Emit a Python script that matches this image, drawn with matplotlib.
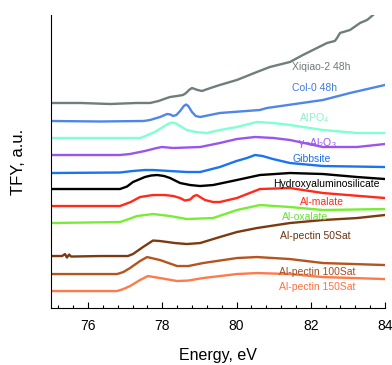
import matplotlib
matplotlib.use("Agg")
import matplotlib.pyplot as plt
from matplotlib.ticker import MultipleLocator, AutoMinorLocator

plt.rcParams['font.family'] = ['Liberation Sans', 'DejaVu Sans']
plt.rcParams['mathtext.fontset'] = 'custom'
plt.rcParams['mathtext.rm'] = 'Liberation Sans'
plt.rcParams['mathtext.it'] = 'Liberation Sans'

# spectra, stacked (energy in eV, TFY in a.u. with offsets)
xiqiao_e = [75.0, 75.8, 76.6, 77.3, 77.67, 77.9, 78.05, 78.21, 78.4, 78.56, 78.64, 78.72, 78.80,
            78.95, 79.07, 79.3, 79.55, 80.01, 80.55, 80.90, 81.44, 81.79, 82.44, 82.65, 82.71,
            82.79, 83.06, 83.33, 83.52, 83.68]
xiqiao_v = [20.5, 20.5, 20.4, 20.5, 20.5, 20.7, 20.9, 21.1, 21.2, 21.3, 21.5, 21.8, 22.0,
            21.8, 21.7, 22.0, 22.3, 22.8, 23.6, 24.1, 24.6, 25.3, 26.5, 26.7, 27.0,
            27.5, 27.8, 28.5, 28.8, 29.3]

col0_e = [75.0, 76.32, 77.5, 77.67, 77.94, 78.13, 78.22, 78.29, 78.38, 78.48, 78.58, 78.64,
          78.70, 78.80, 78.90, 79.02, 79.55, 80.63, 80.82, 82.33, 83.06, 84.0]
col0_v = [18.7, 18.65, 18.7, 18.8, 19.1, 19.4, 19.35, 19.2, 19.3, 19.7, 20.2, 20.35,
          20.2, 19.6, 19.2, 19.1, 19.5, 19.8, 20.0, 20.8, 21.5, 22.3]

alpo4_e = [75.0, 77.40, 77.55, 77.67, 77.80, 78.02, 78.15, 78.26, 78.37, 78.48, 78.66, 78.9,
           79.20, 79.55, 80.01, 80.55, 80.98, 81.44, 82.33, 83.25, 84.0]
alpo4_v = [17.0, 17.0, 17.2, 17.4, 17.6, 18.1, 18.4, 18.55, 18.45, 18.2, 17.8, 17.6,
           17.5, 17.8, 18.1, 18.6, 18.5, 18.3, 17.8, 17.5, 17.5]

al2o3_e = [75.0, 76.86, 77.13, 77.53, 77.85, 77.99, 78.29, 79.02, 79.55, 80.01, 80.50, 81.0,
           81.44, 82.33, 83.25, 84.0]
al2o3_v = [15.3, 15.3, 15.4, 15.7, 16.0, 16.1, 16.0, 16.1, 16.5, 16.9, 17.1, 17.0,
           16.8, 16.1, 16.1, 16.4]

gibbsite_e = [75.0, 76.86, 77.2, 77.53, 77.75, 78.2, 78.66, 79.02, 79.55, 80.0, 80.28, 80.50,
              80.7, 80.98, 81.44, 82.33, 84.0]
gibbsite_v = [13.5, 13.55, 13.7, 13.8, 13.8, 13.7, 13.6, 13.6, 14.1, 14.7, 15.0, 15.3,
              15.2, 14.9, 14.5, 14.2, 14.1]

has_e = [75.0, 76.86, 77.05, 77.21, 77.53, 77.70, 77.86, 78.05, 78.21, 78.48, 78.75, 79.02,
         79.37, 80.01, 80.63, 81.44, 82.33, 83.25, 84.0]
has_v = [11.9, 11.9, 12.15, 12.6, 13.1, 13.25, 13.3, 13.2, 13.0, 12.5, 12.3, 12.2,
         12.3, 12.8, 13.3, 13.5, 13.4, 13.1, 12.9]

malate_e = [75.0, 76.86, 77.15, 77.40, 77.75, 78.07, 78.30, 78.48, 78.61, 78.75, 78.85, 78.93,
            79.02, 79.15, 79.37, 79.55, 80.01, 80.63, 81.44, 82.33, 84.0]
malate_v = [10.2, 10.2, 10.6, 11.1, 11.3, 11.3, 11.2, 11.0, 10.75, 10.85, 11.2, 11.3,
            11.1, 10.8, 10.6, 10.6, 11.0, 11.9, 12.0, 11.5, 11.0]

oxalate_e = [75.0, 76.86, 77.1, 77.32, 77.75, 78.21, 78.66, 79.37, 80.01, 80.63, 81.44, 82.33, 84.0]
oxalate_v = [8.5, 8.6, 8.9, 9.2, 9.4, 9.2, 8.9, 9.0, 9.8, 10.3, 10.1, 9.8, 9.9]

p50_e = [75.0, 75.30, 75.38, 75.43, 75.49, 75.54, 76.32, 77.07, 77.21, 77.48, 77.75, 77.94,
         78.34, 78.66, 79.02, 79.55, 80.01, 80.55, 81.44, 82.33, 83.25, 84.0]
p50_v = [5.2, 5.2, 5.4, 5.05, 5.35, 5.15, 5.2, 5.2, 5.4, 6.1, 6.75, 6.7,
         6.5, 6.4, 6.5, 7.1, 7.6, 8.0, 8.5, 8.8, 9.0, 9.3]

p100_e = [75.0, 76.78, 76.95, 77.13, 77.40, 77.59, 77.94, 78.40, 78.7, 79.10, 80.01, 80.55,
          81.44, 82.33, 84.0]
p100_v = [3.4, 3.4, 3.6, 4.0, 4.7, 5.1, 4.8, 4.2, 4.2, 4.5, 5.0, 5.1,
          4.9, 4.5, 4.3]

p150_e = [75.0, 76.78, 76.95, 77.13, 77.40, 77.61, 77.94, 78.40, 78.7, 79.10, 80.01, 80.55,
          81.44, 82.33, 84.0]
p150_v = [1.7, 1.7, 1.9, 2.2, 2.8, 3.2, 3.0, 2.7, 2.75, 3.0, 3.4, 3.5,
          3.4, 3.1, 2.9]

names = ['Xiqiao-2 48h', 'Col-0 48h', 'AlPO$_4$', 'γ−Al$_2$O$_3$', 'Gibbsite',
         'Hydroxyaluminosilicate', 'Al-malate', 'Al-oxalate', 'Al-pectin 50Sat',
         'Al-pectin 100Sat', 'Al-pectin 150Sat']
label_e = [82.28, 82.11, 82.09, 82.17, 82.03, 82.41, 82.30, 81.84, 82.11, 82.17, 82.17]
label_v = [24.1, 22.0, 19.0, 16.5, 14.9, 12.4, 10.6, 9.1, 7.2, 3.6, 2.1]

colors = ['#6f7d7d', '#4f86e8', '#7fffd4', '#9955ee', '#1a73f0', '#000000',
          '#ff2a1a', '#77ee33', '#7b3a12', '#b4541e', '#ff7a4a']
text_colors = ['#707878', '#3f78e0', '#8ef0c8', '#9955ee', '#1a6ee8', '#000000',
               '#ff2a1a', '#66e033', '#6b3312', '#a84c1c', '#ff7040']

spectra = [(xiqiao_e, xiqiao_v), (col0_e, col0_v), (alpo4_e, alpo4_v), (al2o3_e, al2o3_v),
           (gibbsite_e, gibbsite_v), (has_e, has_v), (malate_e, malate_v),
           (oxalate_e, oxalate_v), (p50_e, p50_v), (p100_e, p100_v), (p150_e, p150_v)]

fig = plt.figure(figsize=(3.92, 3.65), dpi=100)
ax = fig.add_axes([0.130, 0.156, 0.852, 0.803])

for i, (e, v) in enumerate(spectra):
    ax.plot(e, v, color=colors[i], lw=1.7, solid_joinstyle='round')
    ax.text(label_e[i], label_v[i], names[i], color=text_colors[i], fontsize=7.5,
            ha='center', va='center')

ax.set_xlim(75, 84)
ax.set_ylim(0, 29.3)
ax.xaxis.set_major_locator(MultipleLocator(2))
ax.xaxis.set_minor_locator(AutoMinorLocator(5))
ax.tick_params(axis='x', which='major', direction='in', length=4, width=0.8, labelsize=10, pad=8)
ax.tick_params(axis='x', which='minor', direction='in', length=2.5, width=0.8)
ax.set_yticks([])
for s in ['top', 'right']:
    ax.spines[s].set_visible(False)
ax.spines['left'].set_linewidth(0.8)
ax.spines['bottom'].set_linewidth(0.8)

ax.set_xlabel('Energy, eV', fontsize=11.5, labelpad=11)
ax.set_ylabel('TFY, a.u.', fontsize=12, labelpad=18)

fig.savefig('out.png', dpi=100)
